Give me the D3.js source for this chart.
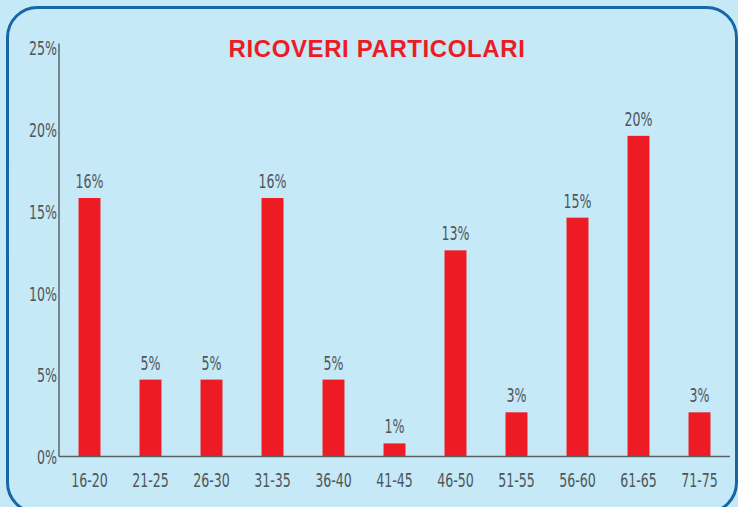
<!DOCTYPE html>
<html>
<head>
<meta charset="utf-8">
<script src="https://cdn.jsdelivr.net/npm/d3@7"></script>
<style>
  html, body { margin: 0; padding: 0; background: #c6e9f8; }
  svg { display: block; }
  .lbl { font-family: "DejaVu Sans", sans-serif; font-stretch: condensed; fill: #50565a; font-size: 20px; }
</style>
</head>
<body>
<div id="chart"></div>
<script>
/* data */
var categories = ["16-20", "21-25", "26-30", "31-35", "36-40", "41-45", "46-50", "51-55", "56-60", "61-65", "71-75"];
var values = [15.8, 4.7, 4.7, 15.8, 4.7, 0.8, 12.6, 2.7, 14.6, 19.6, 2.7];
var valueLabels = ["16%", "5%", "5%", "16%", "5%", "1%", "13%", "3%", "15%", "20%", "3%"];
var yTicks = [0, 5, 10, 15, 20, 25];

/* size of the graphic */
var width = 738;
var height = 507;
var plotLeft = 59, plotRight = 730, plotTop = 47.5, plotBottom = 456.5;
var squeeze = 0.7; // labels in the picture use a condensed face

var svg = d3.select("#chart")
  .append("svg")
    .attr("width", width)
    .attr("height", height);

/* rounded frame */
svg.append("rect")
  .attr("x", 7.5)
  .attr("y", 7.5)
  .attr("width", 729)
  .attr("height", 505)
  .attr("rx", 30)
  .attr("fill", "#c6e9f8")
  .attr("stroke", "#1766a6")
  .attr("stroke-width", 3);

/* scales */
var x = d3.scaleBand()
  .domain(categories)
  .range([plotLeft, plotRight])
  .paddingInner(0.64)
  .paddingOuter(0.32);

var y = d3.scaleLinear()
  .domain([0, 25])
  .range([plotBottom, plotTop]);

/* bars */
svg.selectAll(".bar")
  .data(values)
  .enter().append("rect")
    .attr("class", "bar")
    .attr("x", function(d, i) { return x(categories[i]); })
    .attr("y", function(d) { return y(d); })
    .attr("width", x.bandwidth())
    .attr("height", function(d) { return y(0) - y(d); })
    .attr("fill", "#ed1c24");

/* value labels */
svg.selectAll(".val")
  .data(values)
  .enter().append("text")
    .attr("class", "lbl")
    .attr("x", function(d, i) { return x(categories[i]) + x.bandwidth() / 2; })
    .attr("y", function(d) { return y(d) - 10; })
    .attr("text-anchor", "middle")
    .text(function(d, i) { return valueLabels[i]; });

/* y axis */
var yAxis = svg.append("g")
  .attr("transform", "translate(" + plotLeft + ",0)")
  .call(d3.axisLeft(y).tickValues(yTicks).tickSize(0).tickPadding(2)
    .tickFormat(function(d) { return d + "%"; }));
yAxis.select(".domain").attr("stroke", "#5f6368").attr("stroke-width", 1.5)
  .attr("d", "M0," + (plotTop - 4) + "V" + plotBottom);
yAxis.selectAll("text").attr("class", "lbl").attr("fill", null)
  .attr("dy", "0.36em");

/* x axis */
var xAxis = svg.append("g")
  .attr("transform", "translate(0," + plotBottom + ")")
  .call(d3.axisBottom(x).tickSize(0).tickPadding(16));
xAxis.select(".domain").attr("stroke", "#5f6368").attr("stroke-width", 1.5)
  .attr("d", "M" + plotLeft + ",0H" + plotRight);
xAxis.selectAll("text").attr("class", "lbl").attr("fill", null);

/* squeeze every label horizontally */
svg.selectAll("text.lbl").each(function() {
  var len = this.getComputedTextLength();
  d3.select(this)
    .attr("textLength", len * squeeze)
    .attr("lengthAdjust", "spacingAndGlyphs");
});

/* title */
svg.append("text")
  .attr("x", 377)
  .attr("y", 57)
  .attr("text-anchor", "middle")
  .style("font-family", "'Liberation Sans', Arial, sans-serif")
  .style("font-weight", "bold")
  .style("font-size", "24px")
  .style("letter-spacing", "0.6px")
  .attr("fill", "#ed1c24")
  .text("RICOVERI PARTICOLARI");
</script>
</body>
</html>
